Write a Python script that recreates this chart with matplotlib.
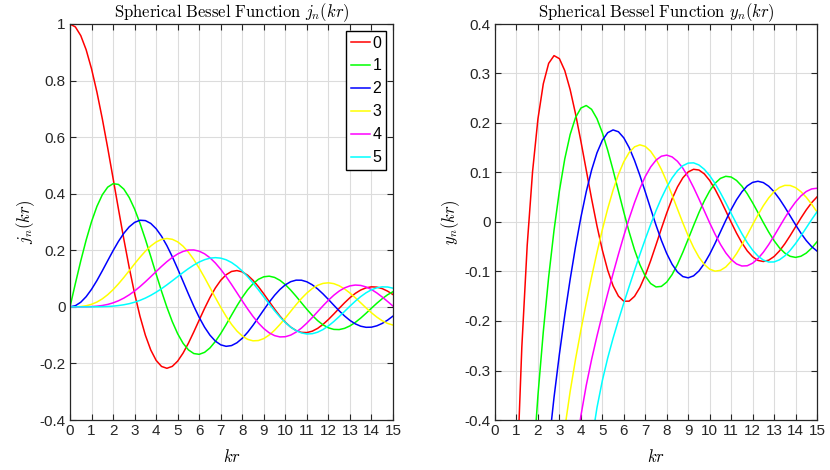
import matplotlib
matplotlib.use("Agg")
import matplotlib.pyplot as plt
from matplotlib.ticker import FuncFormatter, MultipleLocator
import numpy as np

nan = np.nan

# sample points along kr (one row = 2 units of kr)
kr = [0, 0.25, 0.5, 0.75, 1, 1.25, 1.5, 1.75,
      2, 2.25, 2.5, 2.75, 3, 3.25, 3.5, 3.75,
      4, 4.25, 4.5, 4.75, 5, 5.25, 5.5, 5.75,
      6, 6.25, 6.5, 6.75, 7, 7.25, 7.5, 7.75,
      8, 8.25, 8.5, 8.75, 9, 9.25, 9.5, 9.75,
      10, 10.25, 10.5, 10.75, 11, 11.25, 11.5, 11.75,
      12, 12.25, 12.5, 12.75, 13, 13.25, 13.5, 13.75,
      14, 14.25, 14.5, 14.75, 15]

orders = ["0", "1", "2", "3", "4", "5"]
colors = ["#ff0000", "#00ff00", "#0000ff", "#ffff00", "#ff00ff", "#00ffff"]

# j_n(kr), left panel
j0 = [1.0, 0.9896, 0.9589, 0.9089, 0.8415, 0.7592, 0.6650, 0.5623,
      0.4546, 0.3458, 0.2394, 0.1388, 0.0470, -0.0333, -0.1002, -0.1524,
      -0.1892, -0.2106, -0.2172, -0.2104, -0.1918, -0.1636, -0.1283, -0.0884,
      -0.0466, -0.0053, 0.0331, 0.0667, 0.0939, 0.1135, 0.1251, 0.1283,
      0.1237, 0.1118, 0.0939, 0.0714, 0.0458, 0.0188, -0.0079, -0.0328,
      -0.0544, -0.0717, -0.0838, -0.0902, -0.0909, -0.0860, -0.0761, -0.0620,
      -0.0447, -0.0254, -0.0053, 0.0143, 0.0323, 0.0477, 0.0595, 0.0673,
      0.0708, 0.0697, 0.0645, 0.0555, 0.0434]
j1 = [0.0, 0.0828, 0.1626, 0.2362, 0.3012, 0.3551, 0.3962, 0.4232,
      0.4354, 0.4329, 0.4162, 0.3866, 0.3457, 0.2956, 0.2389, 0.1782,
      0.1161, 0.0554, -0.0014, -0.0522, -0.0951, -0.1287, -0.1522, -0.1651,
      -0.1678, -0.1608, -0.1452, -0.1224, -0.0943, -0.0627, -0.0295, 0.0032,
      0.0337, 0.0603, 0.0819, 0.0974, 0.1063, 0.1085, 0.1041, 0.0938,
      0.0785, 0.0592, 0.0373, 0.0142, -0.0087, -0.0300, -0.0487, -0.0636,
      -0.0741, -0.0797, -0.0803, -0.0760, -0.0673, -0.0549, -0.0397, -0.0226,
      -0.0047, 0.0128, 0.0289, 0.0428, 0.0535]
j2 = [0.0, 0.0041, 0.0164, 0.0360, 0.0620, 0.0930, 0.1274, 0.1631,
      0.1985, 0.2314, 0.2601, 0.2829, 0.2986, 0.3062, 0.3050, 0.2950,
      0.2763, 0.2497, 0.2163, 0.1774, 0.1347, 0.0901, 0.0453, 0.0022,
      -0.0373, -0.0719, -0.1001, -0.1211, -0.1343, -0.1395, -0.1369, -0.1271,
      -0.1111, -0.0899, -0.0650, -0.0380, -0.0104, 0.0164, 0.0408, 0.0616,
      0.0779, 0.0890, 0.0944, 0.0942, 0.0886, 0.0780, 0.0634, 0.0458,
      0.0262, 0.0059, -0.0140, -0.0322, -0.0479, -0.0601, -0.0684, -0.0723,
      -0.0718, -0.0670, -0.0585, -0.0468, -0.0326]
j3 = [0.0, 0.0001, 0.0012, 0.0039, 0.0090, 0.0170, 0.0283, 0.0429,
      0.0607, 0.0813, 0.1039, 0.1278, 0.1521, 0.1754, 0.1968, 0.2151,
      0.2292, 0.2384, 0.2417, 0.2389, 0.2298, 0.2145, 0.1933, 0.1671,
      0.1367, 0.1033, 0.0682, 0.0327, -0.0016, -0.0335, -0.0617, -0.0852,
      -0.1031, -0.1148, -0.1201, -0.1191, -0.1121, -0.0996, -0.0827, -0.0622,
      -0.0395, -0.0158, 0.0077, 0.0296, 0.0489, 0.0647, 0.0762, 0.0830,
      0.0850, 0.0821, 0.0747, 0.0634, 0.0489, 0.0322, 0.0144, -0.0037,
      -0.0209, -0.0363, -0.0491, -0.0586, -0.0644]
j4 = [0.0, 0.0, 0.0001, 0.0003, 0.0010, 0.0024, 0.0048, 0.0086,
      0.0141, 0.0215, 0.0309, 0.0425, 0.0561, 0.0716, 0.0886, 0.1066,
      0.1249, 0.1429, 0.1598, 0.1747, 0.1870, 0.1959, 0.2008, 0.2012,
      0.1968, 0.1875, 0.1735, 0.1550, 0.1327, 0.1071, 0.0793, 0.0502,
      0.0209, -0.0075, -0.0339, -0.0573, -0.0768, -0.0918, -0.1017, -0.1063,
      -0.1056, -0.0998, -0.0893, -0.0749, -0.0574, -0.0378, -0.0170, 0.0037,
      0.0234, 0.0410, 0.0558, 0.0670, 0.0742, 0.0771, 0.0758, 0.0704,
      0.0613, 0.0492, 0.0348, 0.0189, 0.0026]
j5 = [0.0, 0.0, 0.0, 0.0, 0.0001, 0.0003, 0.0007, 0.0014,
      0.0026, 0.0046, 0.0074, 0.0112, 0.0164, 0.0230, 0.0310, 0.0407,
      0.0518, 0.0642, 0.0778, 0.0921, 0.1068, 0.1214, 0.1352, 0.1478,
      0.1585, 0.1668, 0.1721, 0.1740, 0.1722, 0.1665, 0.1569, 0.1434,
      0.1265, 0.1066, 0.0843, 0.0602, 0.0353, 0.0103, -0.0137, -0.0359,
      -0.0555, -0.0718, -0.0842, -0.0923, -0.0959, -0.0949, -0.0896, -0.0802,
      -0.0674, -0.0519, -0.0345, -0.0161, 0.0025, 0.0202, 0.0362, 0.0498,
      0.0603, 0.0674, 0.0707, 0.0702, 0.0660]

# y_n(kr), right panel (runs far below the axis near kr = 0)
y0 = [nan, -3.8756, -1.7552, -0.9756, -0.5403, -0.2523, -0.0472, 0.1019,
      0.2081, 0.2792, 0.3205, 0.3361, 0.3300, 0.3059, 0.2676, 0.2188,
      0.1634, 0.1050, 0.0468, -0.0079, -0.0567, -0.0975, -0.1289, -0.1498,
      -0.1600, -0.1599, -0.1502, -0.1323, -0.1077, -0.0783, -0.0462, -0.0134,
      0.0182, 0.0468, 0.0708, 0.0892, 0.1012, 0.1065, 0.1050, 0.0972,
      0.0839, 0.0662, 0.0453, 0.0226, -0.0004, -0.0224, -0.0420, -0.0583,
      -0.0703, -0.0776, -0.0798, -0.0771, -0.0698, -0.0585, -0.0441, -0.0275,
      -0.0098, 0.0079, 0.0245, 0.0390, 0.0507]
y1 = [nan, -16.492, -4.4692, -2.2096, -1.3818, -0.9610, -0.6964, -0.5041,
      -0.3506, -0.2217, -0.1112, -0.0166, 0.0630, 0.1274, 0.1767, 0.2108,
      0.2301, 0.2353, 0.2276, 0.2087, 0.1804, 0.1450, 0.1049, 0.0623,
      0.0199, -0.0203, -0.0562, -0.0863, -0.1092, -0.1243, -0.1312, -0.1301,
      -0.1214, -0.1062, -0.0856, -0.0612, -0.0345, -0.0073, 0.0190, 0.0427,
      0.0628, 0.0781, 0.0881, 0.0923, 0.0909, 0.0840, 0.0725, 0.0571,
      0.0389, 0.0191, -0.0011, -0.0204, -0.0377, -0.0521, -0.0628, -0.0693,
      -0.0715, -0.0692, -0.0628, -0.0528, -0.0400]
y2 = [nan, -194.03, -25.06, -7.8629, -3.6050, -2.0541, -1.3457, -0.9660,
      -0.7340, -0.5748, -0.4539, -0.3542, -0.2670, -0.1883, -0.1161, -0.0502,
      0.0091, 0.0611, 0.1049, 0.1397, 0.1650, 0.1804, 0.1860, 0.1823,
      0.1700, 0.1502, 0.1243, 0.0940, 0.0609, 0.0269, -0.0063, -0.0370,
      -0.0637, -0.0854, -0.1010, -0.1102, -0.1128, -0.1088, -0.0990, -0.0840,
      -0.0651, -0.0433, -0.0201, 0.0032, 0.0252, 0.0448, 0.0609, 0.0729,
      0.0800, 0.0823, 0.0796, 0.0723, 0.0611, 0.0467, 0.0301, 0.0123,
      -0.0055, -0.0225, -0.0375, -0.0497, -0.0587]
y3 = [nan, -3864.1, -246.1, -50.210, -16.643, -7.2555, -3.7892, -2.2559,
      -1.4844, -1.0557, -0.7966, -0.6274, -0.5080, -0.4171, -0.3426, -0.2777,
      -0.2186, -0.1634, -0.1111, -0.0616, -0.0155, 0.0268, 0.0643, 0.0962,
      0.1218, 0.1404, 0.1518, 0.1559, 0.1527, 0.1429, 0.1271, 0.1062,
      0.0816, 0.0544, 0.0262, -0.0018, -0.0281, -0.0515, -0.0711, -0.0858,
      -0.0953, -0.0993, -0.0977, -0.0909, -0.0794, -0.0641, -0.0460, -0.0261,
      -0.0055, 0.0145, 0.0329, 0.0487, 0.0612, 0.0697, 0.0740, 0.0738,
      0.0695, 0.0613, 0.0499, 0.0360, 0.0204]
y4 = [nan, -108000.0, -3420.0, -460.76, -112.90, -38.577, -16.337, -8.0575,
      -4.4614, -2.7095, -1.7766, -1.2428, -0.9184, -0.7100, -0.5690, -0.4682,
      -0.3918, -0.3302, -0.2777, -0.2305, -0.1866, -0.1447, -0.1042, -0.0652,
      -0.0279, 0.0071, 0.0392, 0.0677, 0.0919, 0.1111, 0.1249, 0.1329,
      0.1351, 0.1315, 0.1226, 0.1088, 0.0909, 0.0698, 0.0466, 0.0224,
      -0.0017, -0.0245, -0.0450, -0.0623, -0.0757, -0.0847, -0.0889, -0.0884,
      -0.0832, -0.0740, -0.0611, -0.0456, -0.0282, -0.0099, 0.0082, 0.0253,
      0.0403, 0.0526, 0.0616, 0.0668, 0.0682]
y5 = [nan, -3.9e6, -61315.0, -5479.0, -999.4, -270.50, -94.235, -39.183,
      -18.592, -9.7821, -5.5991, -3.4401, -2.2471, -1.5491, -1.1206, -0.8459,
      -0.6628, -0.5359, -0.4443, -0.3752, -0.3205, -0.2748, -0.2348, -0.1983,
      -0.1637, -0.1302, -0.0975, -0.0656, -0.0346, -0.0050, 0.0228, 0.0481,
      0.0704, 0.0891, 0.1036, 0.1137, 0.1190, 0.1195, 0.1152, 0.1065,
      0.0938, 0.0778, 0.0591, 0.0387, 0.0175, -0.0036, -0.0236, -0.0416,
      -0.0569, -0.0688, -0.0769, -0.0809, -0.0807, -0.0764, -0.0685, -0.0573,
      -0.0436, -0.0281, -0.0117, 0.0048, 0.0205]

j_series = [j0, j1, j2, j3, j4, j5]
y_series = [y0, y1, y2, y3, y4, y5]

plt.rcParams["font.family"] = ["Liberation Sans", "DejaVu Sans"]
plt.rcParams["mathtext.fontset"] = "cm"
plt.rcParams["axes.unicode_minus"] = False

W, H = 830, 470
fig = plt.figure(figsize=(W / 100, H / 100), dpi=100)

dark = "#262626"


def setup(ax, ylim, ystep, name):
    ax.set_xlim(0, 15)
    ax.set_ylim(*ylim)
    ax.xaxis.set_major_locator(MultipleLocator(1))
    ax.yaxis.set_major_locator(MultipleLocator(ystep))
    fmt = FuncFormatter(lambda v, p: "%g" % round(v, 6))
    ax.yaxis.set_major_formatter(fmt)
    ax.xaxis.set_major_formatter(fmt)
    ax.grid(True, color="#dcdcdc", linewidth=0.8)
    ax.set_axisbelow(True)
    ax.tick_params(direction="in", length=4, width=0.8, colors=dark,
                   labelsize=11, top=True, right=True, pad=3)
    for s in ax.spines.values():
        s.set_color(dark)
        s.set_linewidth(0.9)
    ax.set_title(r"$\mathrm{Spherical\ Bessel\ Function}\ %s(kr)$" % name,
                 fontsize=12, pad=5, color="black")
    ax.set_xlabel(r"$kr$", fontsize=12, labelpad=7)
    ax.set_ylabel(r"$%s(kr)$" % name, fontsize=12, labelpad=2)


ax1 = fig.add_axes([70 / W, 1 - 420 / H, 323 / W, 396 / H])
for vals, c, lab in zip(j_series, colors, orders):
    ax1.plot(kr, vals, color=c, linewidth=1.1, label=lab)
setup(ax1, (-0.4, 1.0), 0.2, "j_n")
leg = ax1.legend(loc="upper right", fontsize=11.5, handlelength=1.2, handletextpad=0.15,
                 borderpad=0.3, labelspacing=0.5, borderaxespad=0.42, fancybox=False,
                 framealpha=1, edgecolor="black")
leg.get_frame().set_linewidth(1.0)

ax2 = fig.add_axes([495 / W, 1 - 420 / H, 322 / W, 396 / H])
for vals, c in zip(y_series, colors):
    ax2.plot(kr, vals, color=c, linewidth=1.1)
setup(ax2, (-0.4, 0.4), 0.1, "y_n")

fig.savefig("out.png", dpi=100)
